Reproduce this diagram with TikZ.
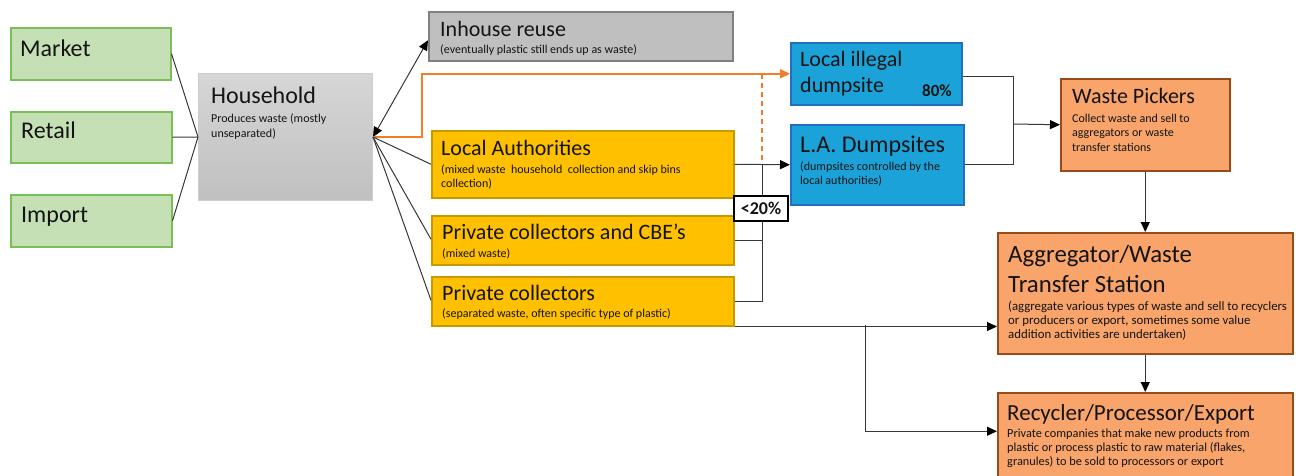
\documentclass[tikz,border=0pt]{standalone}
\usepackage{fontspec}
\setmainfont{Carlito}
\usetikzlibrary{arrows.meta}

\definecolor{grnF}{RGB}{197,224,180}
\definecolor{grnD}{RGB}{122,190,88}
\definecolor{gryF}{RGB}{191,191,191}
\definecolor{gryD}{RGB}{128,128,128}
\definecolor{hhTop}{RGB}{214,214,214}
\definecolor{hhBot}{RGB}{192,192,192}
\definecolor{hhD}{RGB}{205,205,205}
\definecolor{ylwF}{RGB}{255,192,0}
\definecolor{ylwD}{RGB}{200,152,0}
\definecolor{bluF}{RGB}{27,163,217}
\definecolor{bluD}{RGB}{36,110,190}
\definecolor{orgF}{RGB}{248,164,106}
\definecolor{orgD}{RGB}{150,75,25}
\definecolor{lnk}{RGB}{55,55,55}
\definecolor{orgL}{RGB}{244,124,40}
\definecolor{txt}{RGB}{20,20,20}

\tikzset{
  box/.style={draw, line width=1.5pt, anchor=north west, inner sep=0pt},
  gbox/.style={box, fill=grnF, draw=grnD},
  hbox/.style={box, draw=hhD, line width=1pt, top color=hhTop, bottom color=hhBot},
  ibox/.style={box, fill=gryF, draw=gryD},
  ybox/.style={box, fill=ylwF, draw=ylwD},
  bbox/.style={box, fill=bluF, draw=bluD},
  obox/.style={box, fill=orgF, draw=orgD},
  pctbox/.style={draw=black, fill=white, line width=1.2pt, inner sep=0pt,
    font=\bfseries\fontsize{18}{20}\selectfont, text=txt},
  % multi-line nodes are placed by the baseline of their last line
  ttlA/.style={anchor=base west, inner sep=0pt, align=left, text=txt,
    font=\fontsize{24}{30}\selectfont},
  ttlB/.style={anchor=base west, inner sep=0pt, align=left, text=txt,
    font=\fontsize{22}{26}\selectfont},
  dsc/.style={anchor=base west, inner sep=0pt, align=left, text=txt,
    font=\fontsize{12}{14}\selectfont},
  con/.style={draw=lnk, line width=1pt},
  tip/.tip={Triangle[length=10pt,width=9pt,color=black,fill=black]},
  arr/.style={con, -tip},
  orgline/.style={draw=orgL, line width=2pt},
  orgdash/.style={draw=orgL, line width=1.6pt, dash pattern=on 5pt off 4pt},
}

\begin{document}
\begin{tikzpicture}[x=1pt,y=-1pt]
\useasboundingbox (0,0) rectangle (1296,475);
\clip (0,0) rectangle (1296,475);

% source boxes
\node[gbox, minimum width=160pt, minimum height=52pt] (market) at (10,27) {};
\node[gbox, minimum width=161pt, minimum height=51pt] (retail) at (10,111) {};
\node[gbox, minimum width=161pt, minimum height=52pt] (import) at (10,194) {};

% household
\node[hbox, minimum width=174pt, minimum height=127pt] (hh) at (198,73) {};

% destinations of household waste
\node[ibox, minimum width=304pt, minimum height=49pt] (inhouse) at (428,11) {};
\node[ybox, minimum width=302pt, minimum height=67pt] (la) at (431,130) {};
\node[ybox, minimum width=302pt, minimum height=49pt] (cbe) at (431,215) {};
\node[ybox, minimum width=302pt, minimum height=49pt] (pc) at (431,276) {};

% dumpsites
\node[bbox, minimum width=171pt, minimum height=62pt] (illegal) at (790,42) {};
\node[bbox, minimum width=173pt, minimum height=80pt] (ladump) at (790,124) {};

% recovery chain
\node[obox, minimum width=169pt, minimum height=92pt] (pickers) at (1060,78) {};
\node[obox, minimum width=295pt, minimum height=121pt] (agg) at (997,232) {};
\node[obox, minimum width=295pt, minimum height=95pt] (rec) at (997,392) {};

% junction points
\coordinate (jn) at (762,164);
\coordinate (mg) at (1013,124);
\coordinate (sp) at (865,325);

% connectors
\draw[con] (market.east) -- (hh.west);
\draw[con] (retail.east) -- (hh.west);
\draw[con] (import.east) -- (hh.west);

\draw[con, tip-tip] (hh.east) -- ([yshift=-4pt]inhouse.west);
\draw[orgline, -{Triangle[length=10pt,width=9pt]}] (hh.east) -- ++(49,0) |- (illegal.west);
\draw[orgdash] (jn |- illegal.west) -- (jn);

\draw[con] (hh.east) -- (la.west);
\draw[con] (hh.east) -- ([yshift=1pt]cbe.west);
\draw[con] (hh.east) -- ([yshift=1pt]pc.west);

\draw[arr] (la.east) -- (ladump.west);
\draw[con] (cbe.east) -| (jn);
\draw[con] (pc.east) -| (jn);

\draw[con] ([yshift=-3pt]illegal.east) -| (mg);
\draw[con] (ladump.east) -| (mg);
\draw[arr] (mg) -- (pickers.west);

\draw[arr] (pickers.south) -- (agg.north);
\draw[arr] (agg.south) -- (rec.north);

\draw[arr] (pc.south east) -- (agg.west |- pc.south east);
\draw[arr] (sp) |- ([yshift=9pt]rec.west);

% share label on the collector link
\node[pctbox, minimum width=54pt, minimum height=25pt] (lt20) at (761,208.5) {<20\%};

% texts
\node[ttlA] (market-t) at (20,56) {Market};
\node[ttlA] (retail-t) at (21,138) {Retail};
\node[ttlA] (import-t) at (21,222) {Import};

\node[ttlA] (hh-t) at (211,103) {Household};
\node[dsc, font=\fontsize{12}{15}\selectfont] (hh-d) at (211,137) {Produces waste (mostly\\unseparated)};

\node[ttlB] (inhouse-t) at (440,36) {Inhouse reuse};
\node[dsc] (inhouse-d) at (440,53) {(eventually plastic still ends up as waste)};

\node[ttlB] (la-t) at (441,155) {Local Authorities};
\node[dsc] (la-d) at (441,187) {(mixed waste~ household~ collection and skip bins\\collection)};

\node[ttlB] (cbe-t) at (442,239) {Private collectors and CBE’s};
\node[dsc] (cbe-d) at (442,257) {(mixed waste)};

\node[ttlB] (pc-t) at (442,300) {Private collectors};
\node[dsc] (pc-d) at (442,317) {(separated waste, often specific type of plastic)};

\node[ttlB] (illegal-t) at (800,92) {Local illegal\\dumpsite};
\node[anchor=base east, inner sep=0pt, text=txt, font=\bfseries\fontsize{17}{20}\selectfont] (illegal-p) at (952,96) {80\%};

\node[ttlA] (ladump-t) at (800,152) {L.A. Dumpsites};
\node[dsc] (ladump-d) at (800,184) {(dumpsites controlled by the\\local authorities)};

\node[ttlB] (pickers-t) at (1072,103) {Waste Pickers};
\node[dsc, font=\fontsize{12}{14.5}\selectfont] (pickers-d) at (1072,151) {Collect waste and sell to\\aggregators or waste\\transfer stations};

\node[ttlA, font=\fontsize{24.8}{30}\selectfont] (agg-t) at (1008,292) {Aggregator/Waste\\Transfer Station};
\node[dsc, font=\fontsize{12.8}{14}\selectfont] (agg-d) at (1008,338) {(aggregate various types of waste and sell to recyclers\\or producers or export, sometimes some value\\addition activities are undertaken)};

\node[ttlA, font=\fontsize{23}{28}\selectfont] (rec-t) at (1007,420) {Recycler/Processor/Export};
\node[dsc, font=\fontsize{12.3}{14}\selectfont] (rec-d) at (1007,465) {Private companies that make new products from\\plastic or process plastic to raw material (flakes,\\granules) to be sold to processors or export};
\end{tikzpicture}
\end{document}
